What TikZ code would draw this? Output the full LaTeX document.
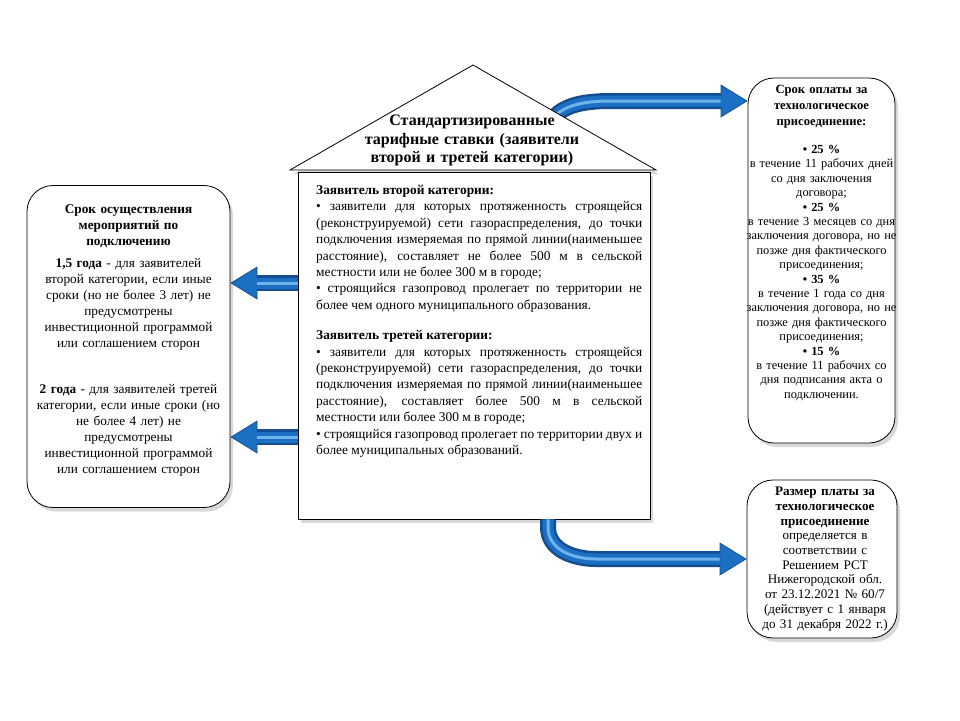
\documentclass[tikz,border=0pt]{standalone}
\usepackage{fontspec}
\setmainfont{Liberation Serif}
\usetikzlibrary{arrows.meta,shadows,calc}

\definecolor{tubedark}{RGB}{20,78,145}
\definecolor{tubemid}{RGB}{28,112,196}
\definecolor{tubelight}{RGB}{110,180,235}

\tikzset{
  panel/.style={draw=black, fill=white, line width=0.8pt, inner sep=0pt,
    drop shadow={shadow xshift=3pt, shadow yshift=-4pt, fill=black!30}},
  roundpanel/.style={panel, rounded corners=26pt},
  tube/.style={draw=tubedark, line width=16pt,
    -{Triangle[length=27pt,width=33pt,line width=0.8pt,fill=tubemid]},
    postaction={draw=tubemid, line width=11pt, -, shorten >=26pt},
    postaction={draw=tubelight, line width=3pt, -, shorten >=27pt}},
  bigtext/.style={inner sep=0pt, font=\fontsize{13.3}{16}\selectfont},
  smalltext/.style={inner sep=0pt, font=\fontsize{12.4}{14.4}\selectfont}
}

\begin{document}
\begin{tikzpicture}[x=1pt,y=-1pt]
      \useasboundingbox (0,0) rectangle (960,720);

      \node[roundpanel, minimum width=203pt, minimum height=322pt] (srok) at (128.5,346.5) {};
      \node[roundpanel, minimum width=147pt, minimum height=365pt] (oplata) at (821.5,260.5) {};
      \node[roundpanel, minimum width=150pt, minimum height=158pt] (razmer) at (822,559) {};

      \coordinate (topstart) at (546,132);
      \draw[tube] (topstart) to[out=75,in=180] (612,101) -- (oplata.west |- 0,101);

      \draw[panel] (290,170) -- (473,65) -- (656,170) -- cycle;
      \node[panel, minimum width=352pt, minimum height=347pt] (body) at (474,345.5) {};

      \draw[tube] (body.west |- 0,283) -- (srok.east |- 0,283);
      \draw[tube] (body.west |- 0,437) -- (srok.east |- 0,437);
      \draw[tube] (body.south -| 548,0) -- ++(0,8) to[out=-90,in=180] (596,559)
        -- (razmer.west);

      \node[inner sep=0pt, anchor=north, text width=260pt, align=center,
        font=\fontsize{16}{18.5}\selectfont\bfseries] (rooftext) at (472,115)
        {Стандартизированные\\ тарифные ставки (заявители\\ второй и третей категории)};

      \node[bigtext, anchor=north, text width=195pt, align=center] (sroktext)
        at (128.5,204.5)
        {\textbf{Срок осуществления\\ мероприятий по\\ подключению}\\[6pt]
        \textbf{1,5 года} - для заявителей\\ второй категории, если иные\\
        сроки (но не более 3 лет) не\\ предусмотрены\\ инвестиционной программой\\
        или соглашением сторон\\[30pt]
        \textbf{2 года} - для заявителей третей\\ категории, если иные сроки (но\\
        не более 4 лет) не\\ предусмотрены\\ инвестиционной программой\\
        или соглашением сторон};

      \node[inner sep=0pt, anchor=north west, text width=326pt, align=justify,
        font=\fontsize{13.4}{16.4}\selectfont] (bodytext) at (316,185)
        {\textbf{Заявитель второй категории:}\\
        • заявители для которых протяженность строящейся\linebreak
        (реконструируемой) сети газораспределения, до точки\linebreak
        подключения измеряемая по прямой линии(наименьшее\linebreak
        расстояние), составляет не более 500 м в сельской\linebreak
        местности или не более 300 м в городе;\\
        • строящийся газопровод пролегает по территории не\linebreak
        более чем одного муниципального образования.\\[14pt]
        \textbf{Заявитель третей категории:}\\
        • заявители для которых протяженность строящейся\linebreak
        (реконструируемой) сети газораспределения, до точки\linebreak
        подключения измеряемая по прямой линии(наименьшее\linebreak
        расстояние), составляет более 500 м в сельской\linebreak
        местности или более 300 м в городе;\\
        • строящийся газопровод пролегает по территории двух и\linebreak
        более муниципальных образований.};

      \node[smalltext, anchor=north, text width=165pt, align=center] (oplatatext)
        at (821.5,84.5)
        {{\fontsize{12.6}{16}\selectfont\bfseries Срок оплаты за\\ технологическое\\
        присоединение:\par}\vspace{14pt}
        \textbf{• 25 \%}\\ в течение 11 рабочих дней\\ со дня заключения\\ договора;\\
        \textbf{• 25 \%}\\ в течение 3 месяцев со дня\\ заключения договора, но не\\
        позже дня фактического\\ присоединения;\\
        \textbf{• 35 \%}\\ в течение 1 года со дня\\ заключения договора, но не\\
        позже дня фактического\\ присоединения;\\
        \textbf{• 15 \%}\\ в течение 11 рабочих со\\ дня подписания акта о\\
        подключении.};

      \node[inner sep=0pt, font=\fontsize{13.1}{14.7}\selectfont, anchor=north,
        text width=165pt, align=center] (razmertext) at (825,487)
        {\textbf{Размер платы за\\ технологическое\\ присоединение}\\
        определяется в\\ соответствии с\\ Решением РСТ\\ Нижегородской обл.\\
        от 23.12.2021 № 60/7\\ (действует с 1 января\\ до 31 декабря 2022 г.)};
    \end{tikzpicture}
\end{document}
